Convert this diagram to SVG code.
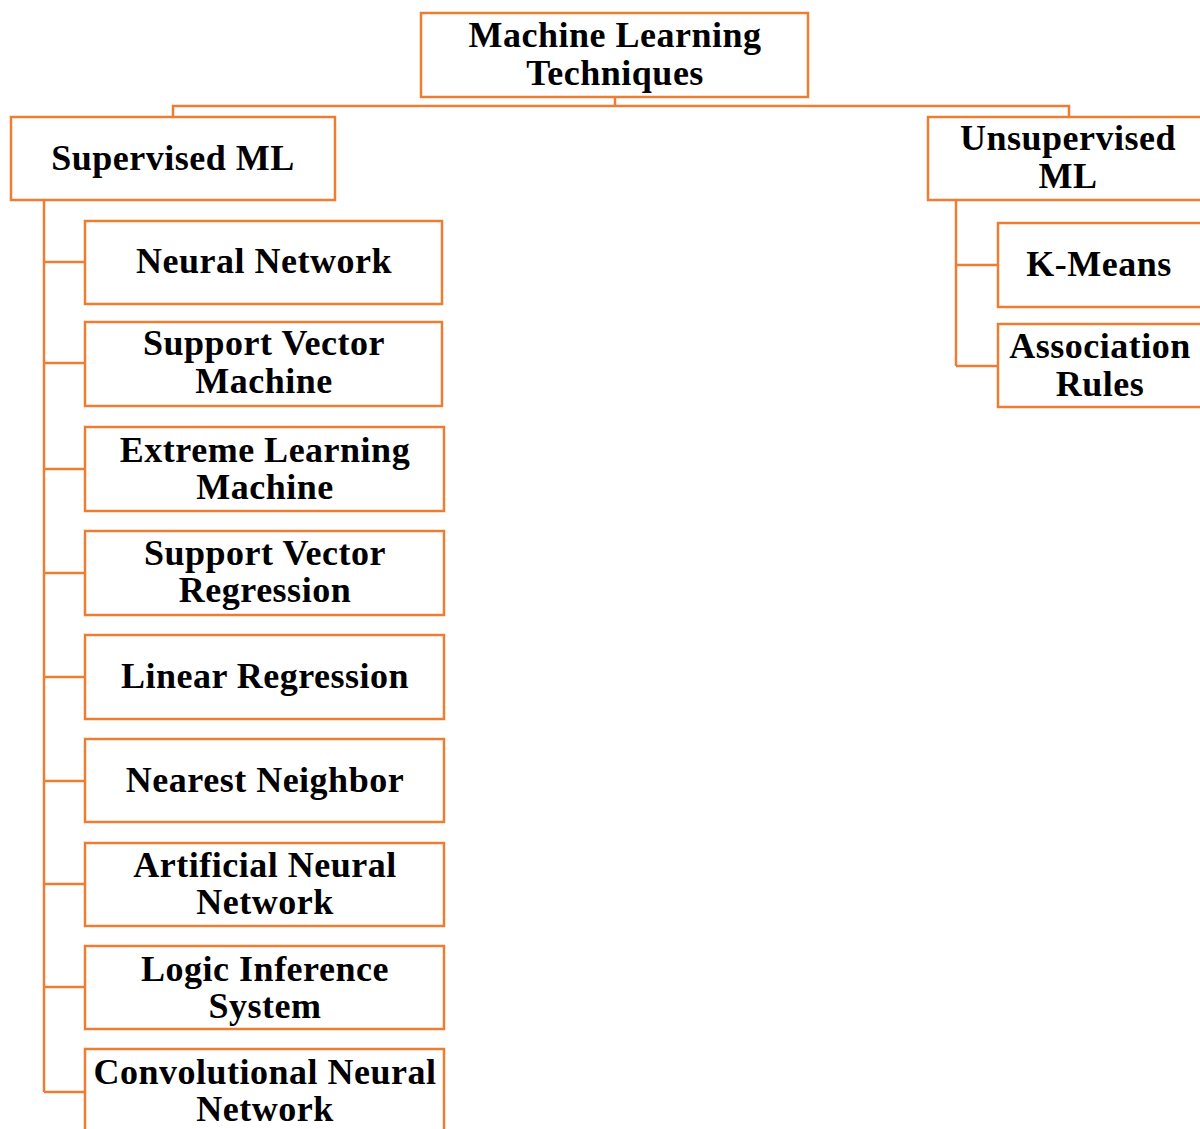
<svg xmlns="http://www.w3.org/2000/svg" width="1200" height="1129" viewBox="0 0 1200 1129">
  <style>
    .box { fill: #ffffff; stroke: #ED7D31; stroke-width: 2.5; }
    .link { fill: none; stroke: #ED7D31; stroke-width: 2.5; }
    .label { font-family: "Liberation Serif", "Times New Roman", serif; font-weight: bold; font-size: 36px; letter-spacing: 0.5px; fill: #000000; text-anchor: middle; }
  </style>
  <rect width="1200" height="1129" fill="#ffffff"/>

  <!-- tree connectors -->
  <g id="connectors">
    <!-- root to the two branches -->
    <path class="link" d="M615 97 V106 M173 117 V106 H1069 V117"/>
    <!-- supervised spine and leaf ticks -->
    <path class="link" d="M44 200 V1092 M44 262 H85 M44 363 H85 M44 469 H85 M44 573 H85 M44 677 H85 M44 781 H85 M44 884 H85 M44 987 H85 M44 1092 H85"/>
    <!-- unsupervised spine and leaf ticks -->
    <path class="link" d="M956 200 V366 M956 265 H998 M956 366 H998"/>
  </g>

  <g id="root">
    <rect class="box" x="421" y="13" width="387" height="84"/>
    <text class="label" x="615" y="47">Machine Learning</text>
    <text class="label" x="615" y="85">Techniques</text>
  </g>

  <g id="supervised">
    <rect class="box" x="11" y="117" width="324" height="83"/>
    <text class="label" x="173" y="170">Supervised ML</text>
  </g>

  <g id="unsupervised">
    <rect class="box" x="928" y="117" width="282" height="83"/>
    <text class="label" x="1068" y="150">Unsupervised</text>
    <text class="label" x="1068" y="188">ML</text>
  </g>

  <g id="neural-network">
    <rect class="box" x="85" y="221" width="357" height="83"/>
    <text class="label" x="264" y="273">Neural Network</text>
  </g>

  <g id="support-vector-machine">
    <rect class="box" x="85" y="322" width="357" height="84"/>
    <text class="label" x="264" y="355">Support Vector</text>
    <text class="label" x="264" y="393">Machine</text>
  </g>

  <g id="extreme-learning-machine">
    <rect class="box" x="85" y="427" width="359" height="84"/>
    <text class="label" x="265" y="462">Extreme Learning</text>
    <text class="label" x="265" y="499">Machine</text>
  </g>

  <g id="support-vector-regression">
    <rect class="box" x="85" y="531" width="359" height="84"/>
    <text class="label" x="265" y="565">Support Vector</text>
    <text class="label" x="265" y="602">Regression</text>
  </g>

  <g id="linear-regression">
    <rect class="box" x="85" y="635" width="359" height="84"/>
    <text class="label" x="265" y="688">Linear Regression</text>
  </g>

  <g id="nearest-neighbor">
    <rect class="box" x="85" y="739" width="359" height="83"/>
    <text class="label" x="265" y="792">Nearest Neighbor</text>
  </g>

  <g id="artificial-neural-network">
    <rect class="box" x="85" y="843" width="359" height="83"/>
    <text class="label" x="265" y="877">Artificial Neural</text>
    <text class="label" x="265" y="914">Network</text>
  </g>

  <g id="logic-inference-system">
    <rect class="box" x="85" y="946" width="359" height="83"/>
    <text class="label" x="265" y="981">Logic Inference</text>
    <text class="label" x="265" y="1018">System</text>
  </g>

  <g id="convolutional-neural-network">
    <rect class="box" x="85" y="1049" width="359" height="100"/>
    <text class="label" x="265" y="1084">Convolutional Neural</text>
    <text class="label" x="265" y="1121">Network</text>
  </g>

  <g id="k-means">
    <rect class="box" x="998" y="223" width="212" height="84"/>
    <text class="label" x="1099" y="276">K-Means</text>
  </g>

  <g id="association-rules">
    <rect class="box" x="998" y="324" width="212" height="83"/>
    <text class="label" x="1100" y="358">Association</text>
    <text class="label" x="1100" y="396">Rules</text>
  </g>
</svg>
